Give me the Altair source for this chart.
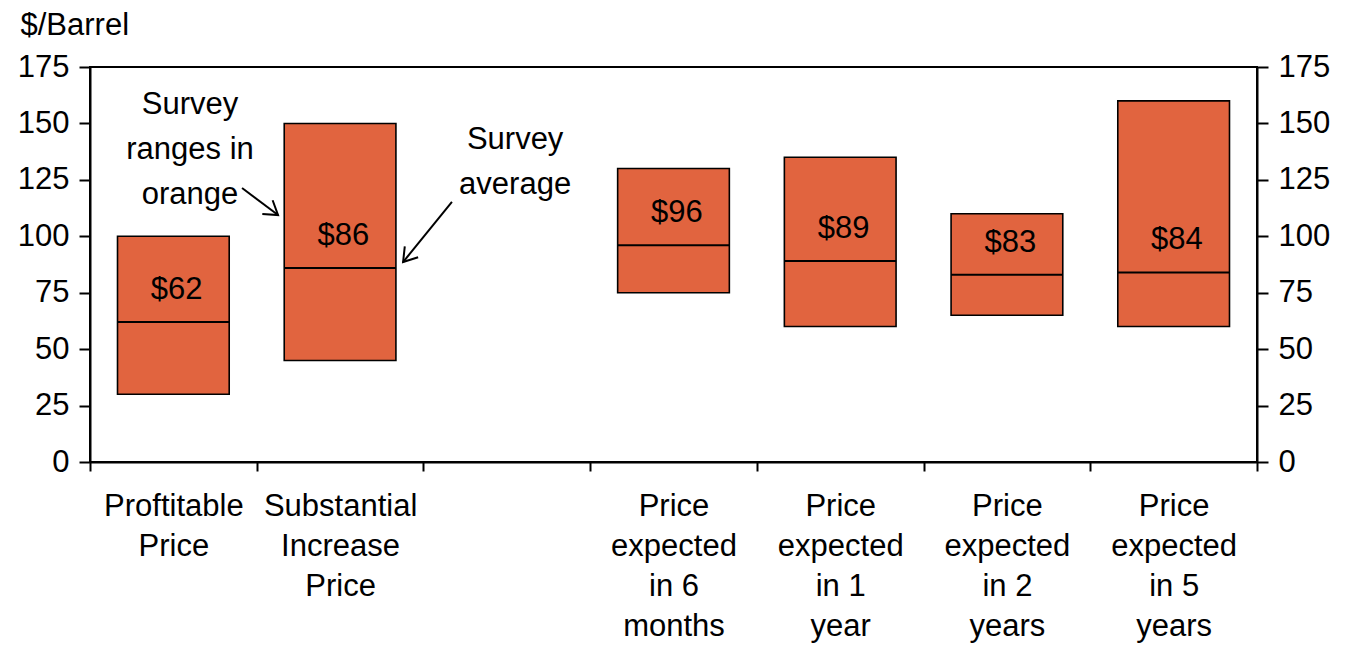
import json
import altair as alt
import pandas as pd

# ---- data ----
categories = [
    "Proftitable|Price",
    "Substantial|Increase|Price",
    "",
    "Price|expected|in 6|months",
    "Price|expected|in 1|year",
    "Price|expected|in 2|years",
    "Price|expected|in 5|years",
]
bar_cats = [0, 1, 3, 4, 5, 6]
low = [30, 45, 75, 60, 65, 60]
high = [100, 150, 130, 135, 110, 160]
avg = [62, 86, 96, 89, 83, 84]
avg_labels = ["$62", "$86", "$96", "$89", "$83", "$84"]
y_ticks = [0, 25, 50, 75, 100, 125, 150, 175]

ann_text = ["Survey\nranges in\norange", "Survey\naverage"]
ann_x = [0.6, 2.55]
ann_y = [158.2, 142.7]
arrow_x0 = [0.912, 2.171]
arrow_y0 = [121.4, 115.2]
arrow_x1 = [1.128, 1.878]
arrow_y1 = [109.4, 88.6]
arrow_angle = [36.9, 129.2]

FONT = "Liberation Sans"
ORANGE = "#E1643F"
FS = 31

df = pd.DataFrame({"idx": bar_cats, "low": low, "high": high, "avg": avg, "lab": avg_labels})
ann = pd.DataFrame({"t": ann_text, "x": ann_x, "y": ann_y})
arr = pd.DataFrame({"x0": arrow_x0, "y0": arrow_y0, "x1": arrow_x1, "y1": arrow_y1, "a": arrow_angle})

xscale = alt.Scale(domain=[0, 7], nice=False, zero=False)
yscale = alt.Scale(domain=[0, 175], nice=False)

label_expr = (
    "datum.value < 7 ? split(" + json.dumps(categories) + "[datum.value], '|') : ''"
)

xaxis = alt.Axis(
    values=list(range(8)), labelExpr=label_expr, labelOffset=83.36, labelFlush=False,
    labelOverlap=False, tickSize=9, tickWidth=2, domainWidth=2, domainColor="black",
    tickColor="black", labelFont=FONT, labelFontSize=FS, labelColor="black",
    labelLineHeight=40, labelPadding=20, labelBaseline="top", labelAlign="center",
    grid=False, title=None,
)

base = alt.Chart(df).transform_calculate(
    x0="datum.idx + 0.165", x1="datum.idx + 0.835", xm="datum.idx + 0.52"
)

left_axis = alt.Axis(
    values=y_ticks, orient="left", tickSize=11, tickWidth=2, domainWidth=2,
    domainColor="black", tickColor="black", labelFont=FONT, labelFontSize=FS,
    labelColor="black", labelPadding=10, grid=False, title="$/Barrel",
    titleAngle=0, titleX=-70, titleY=-42, titleAlign="left", titleBaseline="middle",
    titleFont=FONT, titleFontSize=FS, titleFontWeight="normal", titleColor="black",
)
right_axis = alt.Axis(
    values=y_ticks, orient="right", tickSize=11, tickWidth=2, domainWidth=2,
    domainColor="black", tickColor="black", labelFont=FONT, labelFontSize=FS,
    labelColor="black", labelPadding=10, grid=False, title=None,
)

X = lambda f: alt.X(f, scale=xscale, axis=xaxis)

bars = base.mark_rect(fill=ORANGE, stroke="black", strokeWidth=1.6).encode(
    x=X("x0:Q"),
    x2="x1:Q",
    y=alt.Y("low:Q", scale=yscale, axis=left_axis),
    y2="high:Q",
)

rules = base.mark_rule(color="black", strokeWidth=2).encode(
    x=X("x0:Q"),
    x2="x1:Q",
    y=alt.Y("avg:Q", scale=yscale, axis=right_axis),
)

labels = base.mark_text(
    font=FONT, fontSize=FS, color="black", baseline="bottom", dy=-16
).encode(
    x=X("xm:Q"),
    y=alt.Y("avg:Q", scale=yscale, axis=None),
    text="lab:N",
)

ann_layer = alt.Chart(ann).mark_text(
    font=FONT, fontSize=FS, color="black", lineBreak="\n", lineHeight=45,
    align="center", baseline="middle",
).encode(
    x=X("x:Q"),
    y=alt.Y("y:Q", scale=yscale, axis=None),
    text="t:N",
)

arrow_lines = alt.Chart(arr).mark_rule(color="black", strokeWidth=2).encode(
    x=X("x0:Q"),
    y=alt.Y("y0:Q", scale=yscale, axis=None),
    x2="x1:Q",
    y2="y1:Q",
)

arrow_heads = alt.Chart(arr).mark_point(
    shape="M -1 -0.65 L 0 0 L -1 0.65", filled=False, stroke="black",
    strokeWidth=2, size=700, opacity=1,
).encode(
    x=X("x1:Q"),
    y=alt.Y("y1:Q", scale=yscale, axis=None),
    angle=alt.Angle("a:Q", scale=None),
)

chart = alt.layer(
    bars, rules, labels, ann_layer, arrow_lines, arrow_heads
).resolve_scale(y="independent").properties(
    width=1167, height=395,
    autosize=alt.AutoSizeParams(type="none"),
    padding={"left": 82, "top": 59, "right": 89, "bottom": 185},
).configure_view(stroke="black", strokeWidth=2)

chart.save("out.html", embed_options={"renderer": "svg", "actions": False})
